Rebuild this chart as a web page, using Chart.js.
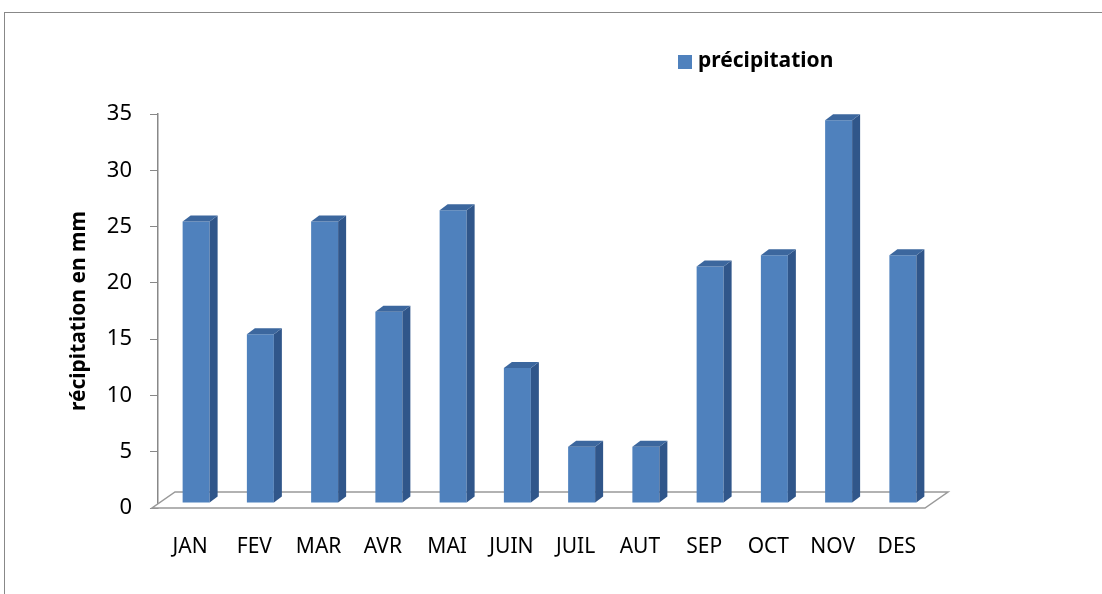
<!DOCTYPE html>
<html>
<head>
<meta charset="utf-8">
<script src="https://cdn.jsdelivr.net/npm/chart.js@4.4.0/dist/chart.umd.min.js"></script>
<style>
  html, body { margin: 0; padding: 0; background: #fff; }
  #wrap { position: relative; width: 1102px; height: 594px; overflow: hidden; }
  #frame { position: absolute; left: 4px; top: 12px; right: -2px; bottom: -2px;
           border-top: 1px solid #888; border-left: 1px solid #888; }
  canvas { position: absolute; left: 0; top: 0; }
</style>
</head>
<body>
<div id="wrap">
  <div id="frame"></div>
  <canvas id="chartPluie" width="1102" height="594"></canvas>
</div>
<script>
// Données
const mois = ['JAN', 'FEV', 'MAR', 'AVR', 'MAI', 'JUIN', 'JUIL', 'AUT', 'SEP', 'OCT', 'NOV', 'DES'];
const precipitation = [25, 15, 25, 17, 26, 12, 5, 5, 21, 22, 34, 22];
const nomSerie = 'précipitation';
const titreAxeY = 'récipitation en mm';

const FONT = "'Noto Sans', 'DejaVu Sans', sans-serif";
const DX = 6, DY = -5;      // décalage des faces avant (profondeur)
const PX = 8, PY = -6;      // épaisseur 3D des barres

// Plancher 3D + faces latérales
const effet3D = {
    id: 'effet3D',
    beforeDatasetsDraw(chart) {
        const { ctx, chartArea: a } = chart;
        ctx.save();
        ctx.beginPath();
        ctx.moveTo(a.left - 6, a.bottom);
        ctx.lineTo(a.right - 4, a.bottom);
        ctx.lineTo(a.right + 19, a.bottom - 16);
        ctx.lineTo(a.left + 17, a.bottom - 16);
        ctx.closePath();
        ctx.fillStyle = '#fff';
        ctx.fill();
        ctx.strokeStyle = '#999';
        ctx.lineWidth = 1.5;
        ctx.stroke();
        ctx.restore();
        ctx.save();
        ctx.translate(DX, DY);
    },
    afterDatasetsDraw(chart) {
        const { ctx } = chart;
        const meta = chart.getDatasetMeta(0);
        meta.data.forEach(bar => {
            const l = bar.x - bar.width / 2;
            const r = bar.x + bar.width / 2;
            const t = bar.y;
            const b = bar.base;
            // face droite
            ctx.beginPath();
            ctx.moveTo(r, t);
            ctx.lineTo(r + PX, t + PY);
            ctx.lineTo(r + PX, b + PY);
            ctx.lineTo(r, b);
            ctx.closePath();
            ctx.fillStyle = '#30568A';
            ctx.fill();
            // face du dessus
            ctx.beginPath();
            ctx.moveTo(l, t);
            ctx.lineTo(l + PX, t + PY);
            ctx.lineTo(r + PX, t + PY);
            ctx.lineTo(r, t);
            ctx.closePath();
            ctx.fillStyle = '#3C679E';
            ctx.fill();
        });
        ctx.restore();
    },
    afterDraw(chart) {
        // Légende
        const { ctx } = chart;
        ctx.save();
        ctx.fillStyle = '#4F81BD';
        ctx.fillRect(678, 55, 14, 14);
        ctx.fillStyle = '#000';
        ctx.font = 'bold 21px ' + FONT;
        ctx.textBaseline = 'middle';
        ctx.fillText(chart.data.datasets[0].label, 698, 61);
        ctx.restore();
    }
};

const ctxPluie = document.getElementById('chartPluie').getContext('2d');
new Chart(ctxPluie, {
    type: 'bar',
    data: {
        labels: mois,
        datasets: [{
            label: nomSerie,
            data: precipitation,
            backgroundColor: '#4F81BD',
            barPercentage: 0.42,
            categoryPercentage: 1.0
        }]
    },
    options: {
        responsive: false,
        animation: false,
        layout: { padding: { top: 114, right: 173, bottom: 0, left: 0 } },
        plugins: {
            legend: { display: false },
            tooltip: { enabled: false }
        },
        scales: {
            x: {
                grid: { display: false },
                border: { display: false },
                ticks: { color: '#000', font: { family: FONT, size: 21 }, padding: 18, maxRotation: 0 },
                afterFit: s => { s.height = 86; }
            },
            y: {
                min: 0,
                max: 35,
                ticks: { stepSize: 5, color: '#000', font: { family: FONT, size: 22 }, padding: 18 },
                grid: { drawOnChartArea: false, drawTicks: true, tickLength: 8, color: '#888' },
                border: { display: true, color: '#888', width: 1.5 },
                title: {
                    display: true,
                    text: titreAxeY,
                    color: '#000',
                    font: { family: FONT, size: 21, weight: 'bold' },
                    padding: { top: 66, bottom: 0 }
                },
                afterFit: s => { s.width = 158; }
            }
        }
    },
    plugins: [effet3D]
});
</script>
</body>
</html>
